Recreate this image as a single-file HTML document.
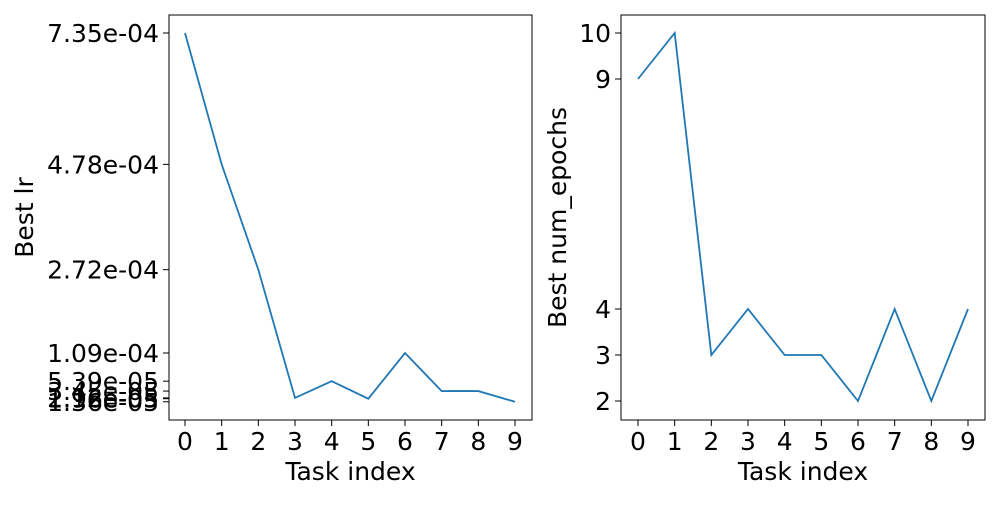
<!DOCTYPE html>
<html><head><meta charset="utf-8"><style>
body{margin:0;background:#fff;font-family:"Liberation Sans","DejaVu Sans",sans-serif}
svg text{font-family:"DejaVu Sans","Liberation Sans",sans-serif;fill:#000}
</style></head><body>
<svg id="c" width="1000" height="500"></svg>
<script>
const tasks=[0,1,2,3,4,5,6,7,8,9];
const lrValues=[7.35e-4,4.78e-4,2.72e-4,2.12e-5,5.39e-5,1.96e-5,1.09e-4,3.45e-5,3.45e-5,1.36e-5];
const epochValues=[9,10,3,4,3,3,2,4,2,4];
const lrTicks=[7.35e-4,4.78e-4,2.72e-4,1.09e-4,5.39e-5,3.45e-5,2.12e-5,1.96e-5,1.36e-5];
const epochTicks=[2,3,4,9,10];
const NS='http://www.w3.org/2000/svg';
const svg=document.getElementById('c');
const FS=25;
function mk(t,a,p){const e=document.createElementNS(NS,t);for(const k in a)e.setAttribute(k,a[k]);(p||svg).appendChild(e);return e;}
function panel(o){
 const g=mk('g',{});
 
 
 const x=i=>o.x0+(i-tasks[0])*(o.x1-o.x0)/(tasks[tasks.length-1]-tasks[0]);
 const y=v=>o.yA+(v-o.vA)*(o.yB-o.yA)/(o.vB-o.vA);
 const fr=mk('rect',{x:o.L,y:15,width:o.R-o.L,height:405,fill:'none',stroke:'#000','stroke-width':1},g);
 
 tasks.forEach(t=>{
  mk('line',{x1:x(t),x2:x(t),y1:420,y2:426,stroke:'#000'},g);
  const tx=mk('text',{x:x(t),y:450,'font-size':FS,'text-anchor':'middle'},g);tx.textContent=t;
  
 });
 o.ticks.forEach(v=>{
  mk('line',{x1:o.L-6,x2:o.L,y1:y(v),y2:y(v),stroke:'#000'},g);
  const tx=mk('text',{x:o.L-10,y:y(v)+9,'font-size':FS,'text-anchor':'end'},g);tx.textContent=o.fmt(v);
  
 });
 const pts=o.vals.map((v,i)=>x(tasks[i])+','+y(v)).join(' ');
 const pl=mk('polyline',{points:pts,fill:'none',stroke:'#1f77b4','stroke-width':1.8},g);
 
 const xt=mk('text',{x:(o.L+o.R)/2,y:480,'font-size':FS,'text-anchor':'middle'},g);xt.textContent='Task index';
 
 const yt=mk('text',{x:0,y:0,'font-size':FS,'text-anchor':'middle',transform:`translate(${o.ytx},${(15+420)/2}) rotate(-90)`},g);yt.textContent=o.ylabel;
 
}
function sci(v){let e=Math.floor(Math.log10(v));let m=v/Math.pow(10,e);if(+m.toFixed(2)>=10){m/=10;e++;}return m.toFixed(2)+'e-'+String(-e).padStart(2,'0');}
panel({name:'lr-panel',L:169,R:532,x0:185,x1:515,vA:7.35e-4,yA:33,vB:1.09e-4,yB:353,ticks:lrTicks,vals:lrValues,fmt:sci,ylabel:'Best lr',ytx:33});
panel({name:'epochs-panel',L:621,R:985,x0:638,x1:968,vA:10,yA:33,vB:2,yB:401,ticks:epochTicks,vals:epochValues,fmt:v=>String(v),ylabel:'Best num_epochs',ytx:566});
</script>
</body></html>
